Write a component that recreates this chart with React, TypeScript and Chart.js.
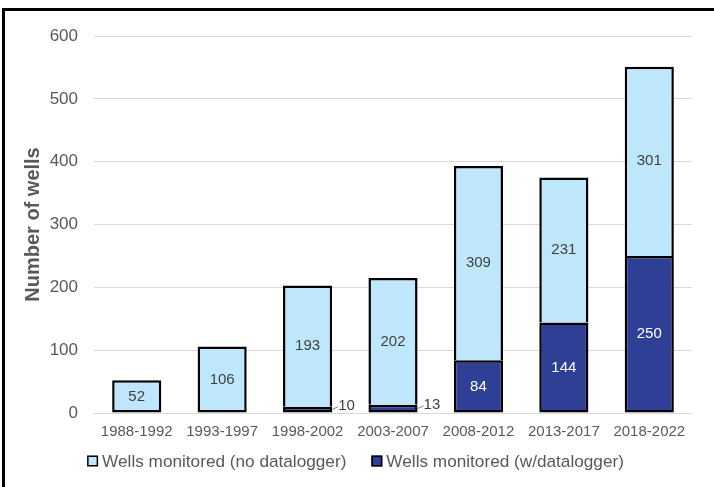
import React, { useEffect, useRef } from "react";
import { Chart, registerables } from "chart.js";

Chart.register(...registerables);

const categories = ["1988-1992", "1993-1997", "1998-2002", "2003-2007", "2008-2012", "2013-2017", "2018-2022"];
const withLogger = [0, 0, 10, 13, 84, 144, 250];
const noLogger = [52, 106, 193, 202, 309, 231, 301];
const yTicks = [0, 100, 200, 300, 400, 500, 600];
const seriesNames = ["Wells monitored (w/datalogger)", "Wells monitored (no datalogger)"];

const FONT = "'Liberation Sans', Arial, sans-serif";
const GREY = "#595959";
const DARK = "#2F3F96";
const LIGHT = "#BFE7FB";

const labelPlugin = {
  id: "barLabels",
  afterDatasetsDraw(chart: any) {
    const ctx = chart.ctx;
    ctx.save();
    ctx.font = `15px ${FONT}`;
    ctx.textBaseline = "middle";
    chart.data.datasets.forEach((ds: any, di: number) => {
      const meta = chart.getDatasetMeta(di);
      meta.data.forEach((bar: any, i: number) => {
        const v = ds.data[i];
        if (!v) return;
        const p = bar.getProps(["x", "y", "base", "width"], true);
        if (v < 30) {
          const xr = p.x + p.width / 2;
          const ym = (p.y + p.base) / 2;
          ctx.strokeStyle = "#7f7f7f";
          ctx.lineWidth = 1;
          ctx.beginPath();
          ctx.moveTo(xr, ym);
          ctx.lineTo(xr + 6, ym - 3);
          ctx.stroke();
          ctx.fillStyle = "#404040";
          ctx.textAlign = "left";
          ctx.fillText(String(v), xr + 6, ym - 4);
        } else {
          ctx.fillStyle = ds.labelColor;
          ctx.textAlign = "center";
          ctx.fillText(String(v), p.x, (p.y + p.base) / 2);
        }
      });
    });
    ctx.restore();
  },
};

const legendPlugin = {
  id: "customLegend",
  afterDraw(chart: any) {
    const ctx = chart.ctx;
    ctx.save();
    ctx.font = `17.2px ${FONT}`;
    ctx.textBaseline = "middle";
    ctx.textAlign = "left";
    const items = [...chart.data.datasets].reverse();
    const box = 11;
    const gap = 4;
    const spacing = 25;
    const widths = items.map((d: any) => box + gap + ctx.measureText(d.label).width);
    const total = widths.reduce((a: number, b: number) => a + b, 0) + spacing * (items.length - 1);
    let x = chart.width / 2 - 1.5 - total / 2;
    const yc = 461;
    items.forEach((d: any, i: number) => {
      ctx.fillStyle = d.backgroundColor;
      ctx.fillRect(x, yc - box / 2, box, box);
      ctx.strokeStyle = "#000";
      ctx.lineWidth = 1.5;
      ctx.strokeRect(x + 0.75, yc - box / 2 + 0.75, box - 1.5, box - 1.5);
      ctx.fillStyle = GREY;
      ctx.fillText(d.label, x + box + gap, yc + 1);
      x += widths[i] + spacing;
    });
    ctx.restore();
  },
};

export default function App() {
  const ref = useRef<HTMLCanvasElement>(null);
  useEffect(() => {
    if (!ref.current) return;
    const chart = new Chart(ref.current, {
      type: "bar",
      data: {
        labels: categories,
        datasets: [
          {
            label: seriesNames[0],
            data: withLogger,
            backgroundColor: DARK,
            borderColor: "#000000",
            borderWidth: 2.5,
            borderSkipped: false,
            barPercentage: 0.575,
            categoryPercentage: 1,
            labelColor: "#ffffff",
          } as any,
          {
            label: seriesNames[1],
            data: noLogger,
            backgroundColor: LIGHT,
            borderColor: "#000000",
            borderWidth: 2.5,
            borderSkipped: (c: any) => (withLogger[c.dataIndex] > 0 ? "bottom" : false),
            barPercentage: 0.575,
            categoryPercentage: 1,
            labelColor: "#404040",
          } as any,
        ],
      },
      options: {
        animation: false,
        responsive: false,
        layout: { padding: { top: 36, right: 22, bottom: 44, left: 0 } },
        plugins: {
          tooltip: { enabled: false },
          legend: { display: false },
        },
        scales: {
          x: {
            stacked: true,
            grid: { display: false },
            border: { display: false },
            ticks: { font: { family: FONT, size: 15 }, color: GREY, padding: 2 },
          },
          y: {
            stacked: true,
            min: 0,
            max: 600,
            afterFit: (s: any) => {
              s.width = 94;
            },
            afterBuildTicks: (s: any) => {
              s.ticks = yTicks.map((v) => ({ value: v }));
            },
            grid: { color: "#D9D9D9", lineWidth: 1, drawTicks: false },
            border: { display: false },
            ticks: { font: { family: FONT, size: 17 }, color: GREY, padding: 16 },
            title: {
              display: true,
              text: "Number of wells",
              font: { family: FONT, size: 20, weight: "bold" },
              color: GREY,
              padding: { top: 21, bottom: 0 },
            },
          },
        },
      },
      plugins: [labelPlugin, legendPlugin],
    });
    return () => chart.destroy();
  }, []);
  return (
    <div>
      <canvas
        ref={ref}
        width={714}
        height={487}
        style={{ position: "fixed", left: 0, top: 0, width: 714, height: 487 }}
      />
      <div
        style={{
          position: "fixed",
          left: 2,
          top: 8,
          width: 730,
          height: 500,
          borderTop: "3px solid #000",
          borderLeft: "3px solid #000",
          pointerEvents: "none",
        }}
      />
    </div>
  );
}
